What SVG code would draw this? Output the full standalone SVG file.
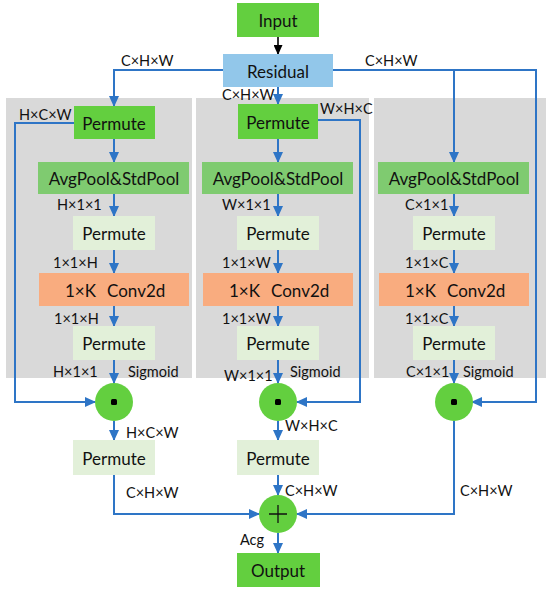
<svg xmlns="http://www.w3.org/2000/svg" width="550" height="591" viewBox="0 0 550 591">
<defs>
<marker id="ab" markerUnits="userSpaceOnUse" markerWidth="11" markerHeight="10" refX="10" refY="5" orient="auto"><path d="M0,0 L11,5 L0,10 z" fill="#2e75c6"/></marker>
<marker id="ak" markerUnits="userSpaceOnUse" markerWidth="10" markerHeight="9" refX="9" refY="4.5" orient="auto"><path d="M0,0 L10,4.5 L0,9 z" fill="#000"/></marker>
<style>
.panel{fill:#d9d9d9}
.g1{fill:#63cf3f}
.g2{fill:#7fcb70}
.g3{fill:#e2f0d9}
.or{fill:#f9ac7f}
.bl{fill:#92c7ea}
.t{font-family:Lato,"Open Sans",sans-serif;font-size:17px;fill:#111;text-anchor:middle;dominant-baseline:central}
.ts{font-family:Lato,"Open Sans",sans-serif;font-size:17px;fill:#111;dominant-baseline:central}
.l{font-family:Lato,"Open Sans",sans-serif;font-size:14.5px;fill:#111;dominant-baseline:central}
.c{fill:none;stroke:#2e75c6;stroke-width:2}
</style>
</defs>
<rect class="panel" x="6" y="98" width="186" height="280"/>
<rect class="panel" x="196" y="98" width="173" height="280"/>
<rect class="panel" x="374" y="98" width="172" height="280"/>

<g id="connectors">
<path d="M278,37 V54" fill="none" stroke="#000" stroke-width="1.6" marker-end="url(#ak)"/>
<path class="c" d="M223,70 H114 V106" marker-end="url(#ab)"/>
<path class="c" d="M278,87 V104" marker-end="url(#ab)"/>
<path class="c" d="M333,70 H536 V402 H472" marker-end="url(#ab)"/>
<path class="c" d="M454,70 V162" marker-end="url(#ab)"/>
<path class="c" d="M114,139 V162" marker-end="url(#ab)"/>
<path class="c" d="M114,194 V216" marker-end="url(#ab)"/>
<path class="c" d="M114,250 V273" marker-end="url(#ab)"/>
<path class="c" d="M114,306 V326" marker-end="url(#ab)"/>
<path class="c" d="M114,360 V383" marker-end="url(#ab)"/>
<path class="c" d="M278,139 V162" marker-end="url(#ab)"/>
<path class="c" d="M278,194 V216" marker-end="url(#ab)"/>
<path class="c" d="M278,250 V273" marker-end="url(#ab)"/>
<path class="c" d="M278,306 V326" marker-end="url(#ab)"/>
<path class="c" d="M278,360 V383" marker-end="url(#ab)"/>
<path class="c" d="M454,194 V216" marker-end="url(#ab)"/>
<path class="c" d="M454,250 V273" marker-end="url(#ab)"/>
<path class="c" d="M454,306 V326" marker-end="url(#ab)"/>
<path class="c" d="M454,360 V383" marker-end="url(#ab)"/>
<path class="c" d="M74,123 H15 V402 H95" marker-end="url(#ab)"/>
<path class="c" d="M318,120 H360 V402 H297" marker-end="url(#ab)"/>
<path class="c" d="M114,421 V440" marker-end="url(#ab)"/>
<path class="c" d="M278,421 V440" marker-end="url(#ab)"/>
<path class="c" d="M114,475 V514 H259" marker-end="url(#ab)"/>
<path class="c" d="M278,475 V495" marker-end="url(#ab)"/>
<path class="c" d="M454,421 V514 H297" marker-end="url(#ab)"/>
<path class="c" d="M278,533 V553" marker-end="url(#ab)"/>
</g>

<g id="input"><rect class="g1" x="237" y="3" width="82" height="34"/><text class="t" x="278" y="20">Input</text></g>
<g id="residual"><rect class="bl" x="223" y="54" width="110" height="33"/><text class="t" x="278" y="71">Residual</text></g>

<g id="p1-permute"><rect class="g1" x="74" y="106" width="81" height="33"/><text class="t" x="114" y="123">Permute</text></g>
<g id="p1-pool"><rect class="g2" x="38" y="162" width="151" height="32"/><text class="t" x="114" y="178">AvgPool&amp;StdPool</text></g>
<g id="p1-permute2"><rect class="g3" x="73" y="216" width="82" height="34"/><text class="t" x="114" y="233">Permute</text></g>
<g id="p1-conv"><rect class="or" x="39" y="273" width="150" height="33"/><text class="ts" y="290"><tspan x="65">1×K</tspan><tspan x="107">Conv2d</tspan></text></g>
<g id="p1-permute3"><rect class="g3" x="73" y="326" width="82" height="34"/><text class="t" x="114" y="343">Permute</text></g>
<g id="p1-mul"><circle class="g1" cx="114" cy="402" r="19"/><rect x="111" y="399" width="6" height="6" rx="1.5" fill="#000"/></g>
<g id="p1-permute4"><rect class="g3" x="73" y="440" width="82" height="35"/><text class="t" x="114" y="458">Permute</text></g>

<g id="p2-permute"><rect class="g1" x="238" y="104" width="80" height="35"/><text class="t" x="278" y="122">Permute</text></g>
<g id="p2-pool"><rect class="g2" x="202" y="162" width="151" height="32"/><text class="t" x="278" y="178">AvgPool&amp;StdPool</text></g>
<g id="p2-permute2"><rect class="g3" x="237" y="216" width="82" height="34"/><text class="t" x="278" y="233">Permute</text></g>
<g id="p2-conv"><rect class="or" x="203" y="273" width="150" height="33"/><text class="ts" y="290"><tspan x="229">1×K</tspan><tspan x="271">Conv2d</tspan></text></g>
<g id="p2-permute3"><rect class="g3" x="237" y="326" width="82" height="34"/><text class="t" x="278" y="343">Permute</text></g>
<g id="p2-mul"><circle class="g1" cx="278" cy="402" r="19"/><rect x="275" y="399" width="6" height="6" rx="1.5" fill="#000"/></g>
<g id="p2-permute4"><rect class="g3" x="237" y="440" width="82" height="35"/><text class="t" x="278" y="458">Permute</text></g>

<g id="p3-pool"><rect class="g2" x="378" y="162" width="151" height="32"/><text class="t" x="454" y="178">AvgPool&amp;StdPool</text></g>
<g id="p3-permute2"><rect class="g3" x="413" y="216" width="82" height="34"/><text class="t" x="454" y="233">Permute</text></g>
<g id="p3-conv"><rect class="or" x="379" y="273" width="150" height="33"/><text class="ts" y="290"><tspan x="405">1×K</tspan><tspan x="447">Conv2d</tspan></text></g>
<g id="p3-permute3"><rect class="g3" x="413" y="326" width="82" height="34"/><text class="t" x="454" y="343">Permute</text></g>
<g id="p3-mul"><circle class="g1" cx="454" cy="402" r="19"/><rect x="451" y="399" width="6" height="6" rx="1.5" fill="#000"/></g>

<g id="add"><circle class="g1" cx="278" cy="514" r="19"/><path d="M269,514 H287 M278,505 V523" stroke="#111" stroke-width="1.3"/></g>
<g id="output"><rect class="g1" x="237" y="553" width="83" height="34"/><text class="t" x="278" y="570">Output</text></g>

<g id="labels">
<text class="l" x="121" y="60">C×H×W</text>
<text class="l" x="365" y="60">C×H×W</text>
<text class="l" x="222" y="94">C×H×W</text>
<text class="l" x="19" y="114">H×C×W</text>
<text class="l" x="320" y="108">W×H×C</text>
<text class="l" x="57" y="204">H×1×1</text>
<text class="l" x="222" y="204">W×1×1</text>
<text class="l" x="405" y="204">C×1×1</text>
<text class="l" x="53" y="262">1×1×H</text>
<text class="l" x="222" y="262">1×1×W</text>
<text class="l" x="405" y="262">1×1×C</text>
<text class="l" x="54" y="318">1×1×H</text>
<text class="l" x="222" y="318">1×1×W</text>
<text class="l" x="405" y="318">1×1×C</text>
<text class="l" x="53" y="371">H×1×1</text>
<text class="l" x="224" y="375">W×1×1</text>
<text class="l" x="406" y="371">C×1×1</text>
<text class="l" x="128" y="371">Sigmoid</text>
<text class="l" x="290" y="371">Sigmoid</text>
<text class="l" x="463" y="371">Sigmoid</text>
<text class="l" x="126" y="432">H×C×W</text>
<text class="l" x="285" y="425">W×H×C</text>
<text class="l" x="126" y="492">C×H×W</text>
<text class="l" x="285" y="490">C×H×W</text>
<text class="l" x="460" y="490">C×H×W</text>
<text class="l" x="240" y="539">Acg</text>
</g>
</svg>
